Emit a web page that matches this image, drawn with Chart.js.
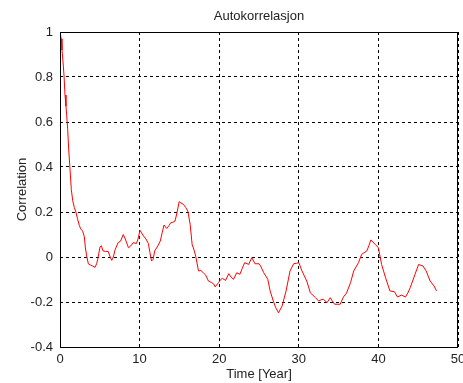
<!DOCTYPE html>
<html>
<head>
<meta charset="utf-8">
<script src="https://cdn.jsdelivr.net/npm/chart.js@4/dist/chart.umd.min.js"></script>
<style>
  html, body { margin: 0; padding: 0; background: #fff; }
  #wrap { width: 463px; height: 383px; }
</style>
</head>
<body>
<div id="wrap"><canvas id="c" width="463" height="383"></canvas></div>
<script>
// Lag in years and the autocorrelation estimated at that lag
const lagYears = [
  0, 0.15, 0.25, 0.35, 0.5, 0.63, 0.75, 0.84, 0.96, 1.09, 1.26, 1.42, 1.6, 1.8, 2.0, 2.2, 2.43, 2.6, 2.85, 3.06,
  3.19, 3.35, 3.56, 3.8, 4.1, 4.4, 4.6, 4.74, 5.03, 5.2, 5.4, 5.7, 6.07, 6.3, 6.5, 6.7, 6.9, 7.3, 7.6, 7.95,
  8.2, 8.6, 8.9, 9.2, 9.6, 9.8, 10.05, 10.5, 10.8, 11.1, 11.3, 11.5, 11.7, 11.9, 12.3, 12.6, 12.85, 13.07, 13.4, 13.7,
  13.9, 14.2, 14.45, 14.7, 14.97, 15.2, 15.5, 15.8, 16.06, 16.35, 16.6, 16.85, 17.05, 17.4, 17.7, 18.0, 18.3, 18.65, 19.06, 19.3,
  19.5, 19.9, 20.2, 20.4, 20.8, 21.2, 21.5, 21.8, 22.2, 22.6, 22.9, 23.2, 23.7, 24.1, 24.5, 25.0, 25.2, 25.6, 26.1, 26.4,
  26.8, 27.1, 27.45, 27.9, 28.4, 28.9, 29.35, 29.7, 30.0, 30.4, 31.0, 31.45, 32.1, 32.5, 32.8, 33.1, 33.55, 33.95, 34.2, 34.5,
  35.2, 35.6, 36.0, 36.5, 36.9, 37.5, 37.9, 38.55, 38.8, 39.05, 39.6, 40.0, 40.4, 40.9, 41.45, 42.0, 42.4, 42.9, 43.4, 43.7,
  44.0, 44.6, 45.05, 45.6, 46.0, 46.5, 47.0, 47.3
];
const correlation = [
  1.00, 0.97, 0.92, 0.88, 0.81, 0.72, 0.67, 0.63, 0.57, 0.48, 0.39, 0.30, 0.25, 0.22, 0.20, 0.17, 0.14, 0.125, 0.115, 0.09,
  0.04, 0.005, -0.03, -0.035, -0.04, -0.046, -0.03, -0.01, 0.045, 0.05, 0.027, 0.025, 0.024, 0.0, -0.015, 0.0, 0.03, 0.064, 0.07, 0.10,
  0.08, 0.041, 0.05, 0.064, 0.06, 0.08, 0.118, 0.093, 0.08, 0.06, 0.02, -0.018, -0.01, 0.027, 0.05, 0.071, 0.11, 0.142, 0.127, 0.14,
  0.152, 0.155, 0.16, 0.197, 0.246, 0.24, 0.234, 0.22, 0.204, 0.145, 0.056, 0.03, 0.004, -0.062, -0.06, -0.07, -0.08, -0.107, -0.114, -0.12,
  -0.133, -0.114, -0.10, -0.095, -0.104, -0.074, -0.09, -0.099, -0.07, -0.077, -0.05, -0.025, -0.033, -0.003, -0.03, -0.03, -0.04, -0.07, -0.099, -0.151,
  -0.196, -0.225, -0.248, -0.218, -0.151, -0.062, -0.03, -0.028, -0.025, -0.062, -0.107, -0.159, -0.181, -0.196, -0.19, -0.188, -0.203, -0.181, -0.195, -0.21,
  -0.21, -0.178, -0.16, -0.114, -0.062, -0.025, 0.012, 0.027, 0.05, 0.076, 0.056, 0.041, -0.033, -0.092, -0.151, -0.154, -0.178, -0.169, -0.178, -0.16,
  -0.136, -0.077, -0.033, -0.04, -0.062, -0.107, -0.129, -0.151
];
// Axis tick values
const xTicks = [0, 10, 20, 30, 40, 50];
const yTicks = [-0.4, -0.2, 0, 0.2, 0.4, 0.6, 0.8, 1];

const titleText = 'Autokorrelasjon';
const xLabel = 'Time [Year]';
const yLabel = 'Correlation';

const FONT = '"Liberation Sans", Arial, Helvetica, sans-serif';
const TEXT_COLOR = '#222';

// Title centred over the plot box, plus a full frame around the plot box
const framePlugin = {
  id: 'frame',
  afterDraw(chart) {
    const { ctx, chartArea: a } = chart;
    ctx.save();
    ctx.strokeStyle = '#000';
    ctx.lineWidth = 1;
    ctx.setLineDash([]);
    ctx.strokeRect(Math.round(a.left) + 0.5, Math.round(a.top) + 0.5,
                   Math.round(a.right - a.left) - 1, Math.round(a.bottom - a.top));
    ctx.fillStyle = TEXT_COLOR;
    ctx.font = '13px ' + FONT;
    ctx.textAlign = 'center';
    ctx.textBaseline = 'middle';
    ctx.fillText(titleText, (a.left + a.right) / 2, 16);
    ctx.restore();
  }
};

new Chart(document.getElementById('c'), {
  type: 'line',
  data: {
    datasets: [{
      data: lagYears.map((x, i) => ({ x: x, y: correlation[i] })),
      borderColor: '#ff0000',
      borderWidth: 1,
      pointRadius: 0,
      tension: 0,
      fill: false
    }]
  },
  options: {
    responsive: false,
    animation: false,
    devicePixelRatio: 1,
    layout: { padding: { top: 32, right: 5, left: 0, bottom: 0 } },
    plugins: {
      legend: { display: false },
      tooltip: { enabled: false },
      title: { display: false }
    },
    scales: {
      x: {
        type: 'linear',
        min: 0, max: 50,
        afterBuildTicks: s => { s.ticks = xTicks.map(v => ({ value: v })); },
        afterFit: s => { s.height = 36; s.paddingRight = 0; s.paddingLeft = 0; },
        grid: {
          color: '#000', lineWidth: 1, drawTicks: false,
          tickBorderDash: [3, 3]
        },
        border: { display: false, dash: [3, 3] },
        ticks: {
          color: TEXT_COLOR, padding: 5, maxRotation: 0,
          font: { family: FONT, size: 13 },
          callback: v => String(v)
        },
        title: {
          display: true, text: xLabel, color: TEXT_COLOR,
          font: { family: FONT, size: 13 },
          padding: { top: 0, bottom: 1 }
        }
      },
      y: {
        type: 'linear',
        min: -0.4, max: 1,
        afterBuildTicks: s => { s.ticks = yTicks.map(v => ({ value: v })); },
        afterFit: s => { s.width = 60; },
        grid: { color: '#000', lineWidth: 1, drawTicks: false },
        border: { display: false, dash: [3, 3] },
        ticks: {
          color: TEXT_COLOR, padding: 7,
          font: { family: FONT, size: 13 },
          callback: v => String(Math.round(v * 10) / 10)
        },
        title: {
          display: true, text: yLabel, color: TEXT_COLOR,
          font: { family: FONT, size: 13 },
          padding: { top: 15, bottom: 0 }
        }
      }
    }
  },
  plugins: [framePlugin]
});
</script>
</body>
</html>
